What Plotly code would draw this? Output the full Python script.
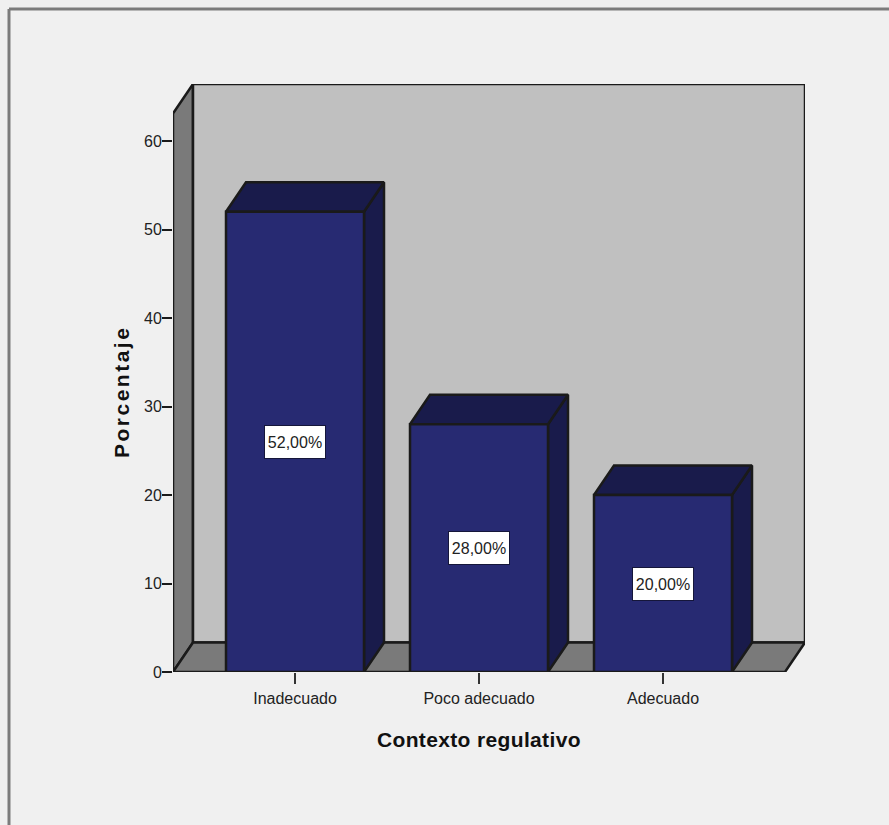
import plotly.graph_objects as go

# Contexto regulativo: share of respondents per category
categories = ["Inadecuado", "Poco adecuado", "Adecuado"]
percentages = [52, 28, 20]
value_labels = ["52,00%", "28,00%", "20,00%"]
y_ticks = [0, 10, 20, 30, 40, 50, 60]

W, H = 889, 825
PLOT_L, PLOT_R, PLOT_T, PLOT_B = 173, 805, 84, 672
PX_PER_UNIT_X = 184.0
PX_PER_UNIT_Y = 8.85
FIRST_CENTER_PX = 295
BAR_WIDTH = 138 / PX_PER_UNIT_X

# Oblique projection offset of the box depth, in axis units
DX = 20 / PX_PER_UNIT_X
DY = 29.5 / PX_PER_UNIT_Y

x_min = (PLOT_L - FIRST_CENTER_PX) / PX_PER_UNIT_X
x_max = (PLOT_R - FIRST_CENTER_PX) / PX_PER_UNIT_X
y_max = (PLOT_B - PLOT_T) / PX_PER_UNIT_Y
x_floor_end = x_max - DX
y_wall_end = y_max - DY

LINE = "#1a1a1a"
FONT = "Liberation Sans, Arial, sans-serif"


def face(xs, ys, fill, width=2.5):
    return go.Scatter(
        x=xs, y=ys, mode="lines", fill="toself", fillcolor=fill,
        line=dict(color=LINE, width=width), cliponaxis=False,
        hoverinfo="skip", showlegend=False,
    )


fig = go.Figure()

# Chart box: side wall, back wall, floor
fig.add_trace(face([x_min, x_min + DX, x_min + DX, x_min, x_min],
                   [0, DY, y_max, y_wall_end, 0], "#7a7a7a"))
fig.add_trace(face([x_min + DX, x_max, x_max, x_min + DX, x_min + DX],
                   [DY, DY, y_max, y_max, DY], "#c0c0c0"))
fig.add_trace(face([x_min, x_floor_end, x_max, x_min + DX, x_min],
                   [0, 0, DY, DY, 0], "#7a7a7a"))

# Bars: side face, top face, front face
for i, v in enumerate(percentages):
    left, right = i - BAR_WIDTH / 2, i + BAR_WIDTH / 2
    fig.add_trace(face([right, right + DX, right + DX, right, right],
                       [0, DY, v + DY, v, 0], "#191b4b"))
    fig.add_trace(face([left, right, right + DX, left + DX, left],
                       [v, v, v + DY, v + DY, v], "#191b4b"))
    fig.add_trace(face([left, right, right, left, left],
                       [0, 0, v, v, 0], "#272a72"))

# Value labels centred on each bar's front face
for i, (v, label) in enumerate(zip(percentages, value_labels)):
    fig.add_annotation(
        x=i, y=v / 2, xref="x", yref="y", text=label, showarrow=False,
        font=dict(family=FONT, size=16, color="#222222"),
        bgcolor="#ffffff", bordercolor="#15163a", borderwidth=1,
        width=58, height=30, align="center", valign="middle",
    )

plot_w, plot_h = PLOT_R - PLOT_L, PLOT_B - PLOT_T

# Axis titles, slightly letter-spaced
fig.add_annotation(
    x=1, xref="x", y=(PLOT_B - 739) / plot_h, yref="paper", showarrow=False,
    xanchor="center", yanchor="middle",
    text='<span style="letter-spacing:0.35px"><b>Contexto regulativo</b></span>',
    font=dict(family=FONT, size=21, color="#111111"),
)
fig.add_annotation(
    x=(121 - PLOT_L) / plot_w, xref="paper", y=(PLOT_B - 392) / plot_h, yref="paper",
    showarrow=False, textangle=-90, xanchor="center", yanchor="middle",
    text='<span style="letter-spacing:2.5px"><b>Porcentaje</b></span>',
    font=dict(family=FONT, size=21, color="#111111"),
)

# Outer frame along the top and left edges
frame_x = (9 - PLOT_L) / plot_w
frame_y = (PLOT_B - 9) / plot_h
frame_bottom = (PLOT_B - H) / plot_h
frame_right = (W - PLOT_L) / plot_w
fig.add_shape(type="line", xref="paper", yref="paper", layer="below",
              x0=frame_x, x1=frame_right, y0=frame_y, y1=frame_y,
              line=dict(color="#7c7c7c", width=3))
fig.add_shape(type="line", xref="paper", yref="paper", layer="below",
              x0=frame_x, x1=frame_x, y0=frame_y, y1=frame_bottom,
              line=dict(color="#7c7c7c", width=3))

fig.update_layout(
    width=W, height=H, autosize=False,
    paper_bgcolor="#f0f0f0", plot_bgcolor="rgba(0,0,0,0)",
    margin=dict(l=PLOT_L, r=W - PLOT_R, t=PLOT_T, b=H - PLOT_B, pad=0),
    font=dict(family=FONT, color="#222222"),
    showlegend=False,
    xaxis=dict(
        range=[x_min, x_max], tickmode="array",
        tickvals=list(range(len(categories))), ticktext=categories,
        ticks="outside", ticklen=11, tickwidth=2, tickcolor="#333333",
        ticklabelstandoff=1,
        tickfont=dict(size=16, family=FONT, color="#222222"),
        showgrid=False, zeroline=False, showline=False,
    ),
    yaxis=dict(
        range=[0, y_max], tickmode="array", tickvals=y_ticks,
        ticks="outside", ticklen=10, tickwidth=2, tickcolor=LINE,
        ticklabelstandoff=-3,
        tickfont=dict(size=16, family=FONT, color="#222222"),
        showgrid=False, zeroline=False, showline=False,
    ),
)

fig.write_html("out.html")
